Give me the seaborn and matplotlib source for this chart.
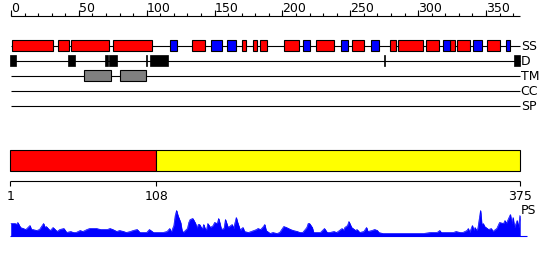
import numpy as np
import matplotlib
matplotlib.use("Agg")
import matplotlib.pyplot as plt
import seaborn as sns

# ---------------- data ----------------
seq_len = 375
ruler_major = [0, 50, 100, 150, 200, 250, 300, 350]
ruler_minor = list(range(0, 371, 10))

helix_start = [1, 35, 44.5, 75.5, 133.5, 170.5, 178.5, 183.5, 201.5, 225, 251, 279.5, 285.5, 306, 323.5, 329, 350.5]
helix_end   = [31, 43, 72, 104, 143, 173, 181.5, 189, 212, 238, 260.5, 284, 303.5, 315.5, 327, 338, 360]
strand_start = [117.5, 147.5, 159.5, 215, 243.5, 265.5, 318, 340.5, 364.5]
strand_end   = [122.5, 155.5, 165.5, 220.5, 248.5, 271.5, 323.5, 347, 367.5]
disorder_start = [-0.5, 42, 69.5, 72.5, 99.5, 102.5, 275, 371]
disorder_end   = [4, 47.5, 71.5, 78, 100.5, 115.5, 275.7, 375]
tm_start = [54, 80.5]
tm_end   = [73.5, 99.5]
track_names = ["SS", "D", "TM", "CC", "SP"]

domain_bounds = [1, 108, 375]
domain_colors = ["#ff0000", "#ffff00"]

ps_pos = [0, 3, 4, 5, 7, 9, 11, 14, 15, 16, 19, 21, 24, 25, 26, 28, 29, 31, 34, 36, 39, 41, 44, 46, 48,
          51, 53, 56, 58, 61, 63, 66, 68, 71, 73, 75, 78, 80, 83, 85, 88, 90, 93, 95, 98, 100, 102, 105,
          107, 110, 112, 115, 117, 118, 120, 121, 122, 123, 125, 126, 127, 130, 131, 132, 134, 136, 137,
          138, 139, 141, 142, 143, 144, 145, 147, 149, 150, 152, 153, 154, 155, 157, 158, 160, 163, 164,
          166, 167, 169, 170, 171, 172, 175, 179, 181, 182, 184, 186, 187, 188, 190, 191, 193, 196, 198,
          200, 201, 203, 206, 208, 211, 213, 215, 218, 219, 220, 222, 223, 225, 228, 231, 233, 235, 238,
          240, 242, 244, 245, 246, 248, 249, 251, 254, 255, 257, 260, 262, 263, 266, 268, 270, 271, 274,
          279, 284, 289, 294, 299, 304, 309, 314, 316, 317, 321, 326, 328, 331, 333, 336, 337, 338, 340,
          341, 342, 343, 344, 346, 347, 348, 349, 352, 354, 355, 358, 360, 363, 364, 365, 366, 368, 369,
          370, 371, 373, 374, 375]
ps_val = [12, 12, 11, 13, 8, 7, 6, 10, 6, 6, 5, 6, 12, 8, 9, 6, 5, 8, 4, 6, 7, 3, 4, 3, 3,
          5, 4, 6, 7, 7, 7, 6, 6, 6, 7, 6, 4, 5, 4, 3, 4, 5, 6, 3, 3, 3, 6, 3,
          3, 3, 3, 4, 7, 3, 10, 20, 25, 20, 13, 5, 3, 7, 13, 16, 17, 12, 7,
          11, 11, 6, 11, 7, 5, 12, 8, 10, 13, 12, 17, 12, 6, 7, 16, 8, 11, 7,
          18, 13, 5, 7, 8, 4, 3, 5, 6, 7, 6, 9, 11, 5, 3, 2, 3, 2, 3,
          7, 9, 8, 6, 5, 4, 3, 3, 8, 12, 12, 8, 3, 3, 3, 7, 3, 3, 4,
          3, 5, 7, 5, 8, 10, 14, 8, 5, 6, 3, 4, 8, 4, 5, 6, 5, 3, 2,
          2, 2, 2, 2, 2, 2, 3, 3, 5, 3, 3, 3, 4, 3, 3, 5, 7, 3, 10,
          5, 8, 5, 7, 25, 10, 12, 9, 6, 7, 4, 7, 13, 12, 15, 12, 15, 21, 12,
          18, 8, 15, 8, 20]

# ---------------- layout ----------------
sns.set_style("white")
plt.rcParams["font.family"] = ["DejaVu Sans"]

fig = plt.figure(figsize=(5.5, 2.6), dpi=100)
W, H = 550, 260
sA = 1.357   # px per residue, upper panel
oA = 11.0
sB = 1.3628  # px per residue, domain panel
oB = 10.5

axA = fig.add_axes([0, 0, 1, 1])
axA.set_xlim(-oA / sA, (W - oA) / sA)
axA.set_ylim(H, 0)
axA.axis("off")

axB = fig.add_axes([0, 0, 1, 1])
axB.set_xlim(1 - oB / sB, 1 + (W - oB) / sB)
axB.set_ylim(H, 0)
axB.axis("off")
axB.patch.set_alpha(0)

fs = 9
lw = 0.8

# ruler
y_r = 15.5
axA.hlines(y_r, 0, seq_len, color="black", lw=lw)
axA.vlines(ruler_minor, y_r - 3, y_r, color="black", lw=lw)
axA.vlines(ruler_major, y_r - 6, y_r, color="black", lw=lw)
for t in ruler_major:
    axA.text(t, 11.5, str(t), ha="left", va="baseline", fontsize=fs, color="black")

# tracks
track_y = [45.5, 60.5, 75.5, 90.5, 105.5]
for ty, name in zip(track_y, track_names):
    axA.hlines(ty, 0, seq_len, color="black", lw=lw, zorder=1)
    axA.text(seq_len + 0.6, ty + 0.8, name, ha="left", va="center", fontsize=fs, color="black")

bh = 10.7
hs, he = np.array(helix_start), np.array(helix_end)
axA.barh(track_y[0], he - hs, left=hs, height=bh, color="#ff0000", edgecolor="black", linewidth=lw, zorder=2)
ss, se = np.array(strand_start), np.array(strand_end)
axA.barh(track_y[0], se - ss, left=ss, height=bh, color="#0000ff", edgecolor="black", linewidth=lw, zorder=2)
ds, de = np.array(disorder_start), np.array(disorder_end)
axA.barh(track_y[1], de - ds, left=ds, height=bh, color="black", edgecolor="black", linewidth=0.5, zorder=2)
ts, te = np.array(tm_start), np.array(tm_end)
axA.barh(track_y[2], te - ts, left=ts, height=bh, color="#808080", edgecolor="black", linewidth=lw, zorder=2)

# domain bar
for i in range(len(domain_colors)):
    a, b = domain_bounds[i], domain_bounds[i + 1]
    axB.barh(160.5, b - a, left=a, height=20.5, color=domain_colors[i], edgecolor="black", linewidth=lw)
y_b = 181
axB.hlines(y_b, domain_bounds[0], domain_bounds[-1], color="black", lw=lw)
axB.vlines(domain_bounds, y_b, y_b + 4.5, color="black", lw=lw)
for t in domain_bounds:
    axB.text(t, 199.5, str(t), ha="center", va="baseline", fontsize=fs, color="black")

# PS profile
base = 235.5
pp = np.array(ps_pos, dtype=float)
pv = base - np.array(ps_val, dtype=float)
axA.fill_between(pp, base, pv, color="#0000ff", linewidth=0.4, edgecolor="#0000ff")
sns.lineplot(x=pp, y=pv, ax=axA, color="#0000ff", lw=0.5, sort=False, estimator=None)
axA.hlines(base, -0.7, 380, color="#0000ff", lw=lw)
axA.text(seq_len + 0.8, 211, "PS", ha="left", va="center", fontsize=fs, color="black")

fig.savefig("out.png", dpi=100)
